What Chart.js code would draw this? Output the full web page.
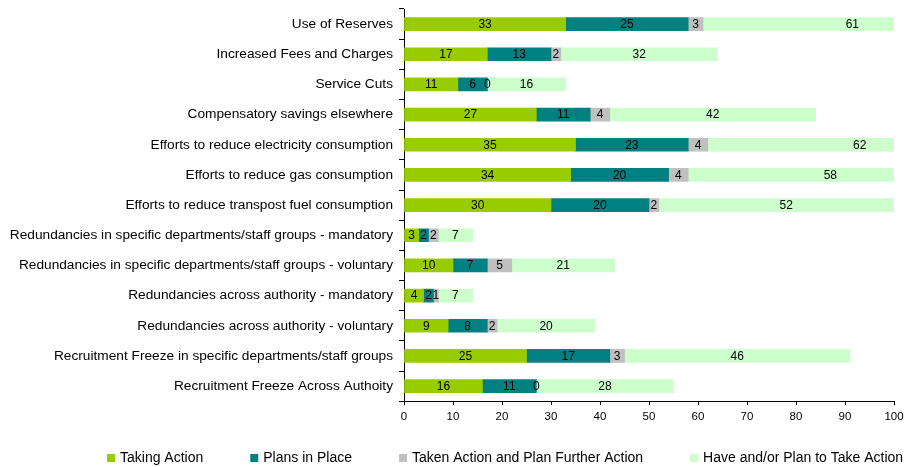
<!DOCTYPE html>
<html>
<head>
<meta charset="utf-8">
<script src="https://cdn.jsdelivr.net/npm/chart.js@4"></script>
<style>
  html, body { margin: 0; padding: 0; background: #fff; }
  #wrap { width: 914px; height: 467px; }
</style>
</head>
<body>
<div id="wrap"><canvas id="actionChart"></canvas></div>
<script>
const categories = [
  'Use of Reserves',
  'Increased Fees and Charges',
  'Service Cuts',
  'Compensatory savings elsewhere',
  'Efforts to reduce electricity consumption',
  'Efforts to reduce gas consumption',
  'Efforts to reduce transpost fuel consumption',
  'Redundancies in specific departments/staff groups - mandatory',
  'Redundancies in specific departments/staff groups - voluntary',
  'Redundancies across authority - mandatory',
  'Redundancies across authority - voluntary',
  'Recruitment Freeze in specific departments/staff groups',
  'Recruitment Freeze Across Authoity'
];
const takingAction   = [33, 17, 11, 27, 35, 34, 30, 3, 10, 4, 9, 25, 16];
const plansInPlace   = [25, 13, 6, 11, 23, 20, 20, 2, 7, 2, 8, 17, 11];
const takenAndFurther = [3, 2, 0, 4, 4, 4, 2, 2, 5, 1, 2, 3, 0];
const haveOrPlan     = [61, 32, 16, 42, 62, 58, 52, 7, 21, 7, 20, 46, 28];
const xTicks = [0, 10, 20, 30, 40, 50, 60, 70, 80, 90, 100];

const FONT = '"Liberation Sans", Arial, sans-serif';
Chart.defaults.font.family = FONT;
Chart.defaults.color = '#000';

// numbers in the middle of each segment (unclipped centre, like the original)
const valueLabels = {
  id: 'valueLabels',
  afterDatasetsDraw(chart) {
    const ctx = chart.ctx;
    ctx.save();
    ctx.font = '12px ' + FONT;
    ctx.fillStyle = '#000';
    ctx.textAlign = 'center';
    ctx.textBaseline = 'middle';
    chart.data.datasets.forEach((ds, i) => {
      chart.getDatasetMeta(i).data.forEach((bar, j) => {
        ctx.fillText(ds.data[j], (bar.x + bar.base) / 2, bar.y + 0.5);
      });
    });
    ctx.restore();
  }
};

// legend row along the bottom, spaced like the original
const legendRow = {
  id: 'legendRow',
  afterDraw(chart) {
    const ctx = chart.ctx;
    ctx.save();
    ctx.font = '14px ' + FONT;
    ctx.textBaseline = 'middle';
    let x = 107;
    const y = 458;
    chart.data.datasets.forEach(ds => {
      ctx.fillStyle = ds.backgroundColor;
      ctx.fillRect(x, y - 4, 8, 8);
      ctx.fillStyle = '#000';
      ctx.fillText(ds.label, x + 13, y);
      x += 13 + ctx.measureText(ds.label).width + 47;
    });
    ctx.restore();
  }
};

const ctx = document.getElementById('actionChart').getContext('2d');
const actionChart = new Chart(ctx, {
  type: 'bar',
  data: {
    labels: categories,
    datasets: [
      { label: 'Taking Action', data: takingAction, backgroundColor: '#99CC00' },
      { label: 'Plans in Place', data: plansInPlace, backgroundColor: '#008080' },
      { label: 'Taken Action and Plan Further Action', data: takenAndFurther, backgroundColor: '#C0C0C0' },
      { label: 'Have and/or Plan to Take Action', data: haveOrPlan, backgroundColor: '#CCFFCC' }
    ]
  },
  options: {
    indexAxis: 'y',
    responsive: true,
    maintainAspectRatio: false,
    animation: false,
    barThickness: 13,
    layout: {
      padding: { top: 9, right: 20, bottom: 38, left: 0 }
    },
    scales: {
      x: {
        stacked: true,
        min: 0,
        max: 100,
        afterBuildTicks(scale) {
          scale.ticks = xTicks.map(v => ({ value: v }));
        },
        grid: {
          drawOnChartArea: false,
          drawTicks: true,
          tickLength: 4,
          color: '#000'
        },
        border: { display: true, color: '#000' },
        ticks: {
          font: { size: 11.5 },
          padding: 5,
          maxRotation: 0
        }
      },
      y: {
        stacked: true,
        afterFit(scale) {
          scale.width = 404;
          scale.paddingTop = 0;
          scale.paddingBottom = 0;
        },
        grid: {
          drawOnChartArea: false,
          drawTicks: true,
          tickLength: 5,
          color: '#000',
          offset: true
        },
        border: { display: true, color: '#000' },
        ticks: {
          font: { size: 13.7 },
          padding: 6,
          autoSkip: false
        }
      }
    },
    plugins: {
      legend: { display: false },
      tooltip: { enabled: false }
    }
  },
  plugins: [valueLabels, legendRow]
});
</script>
</body>
</html>
